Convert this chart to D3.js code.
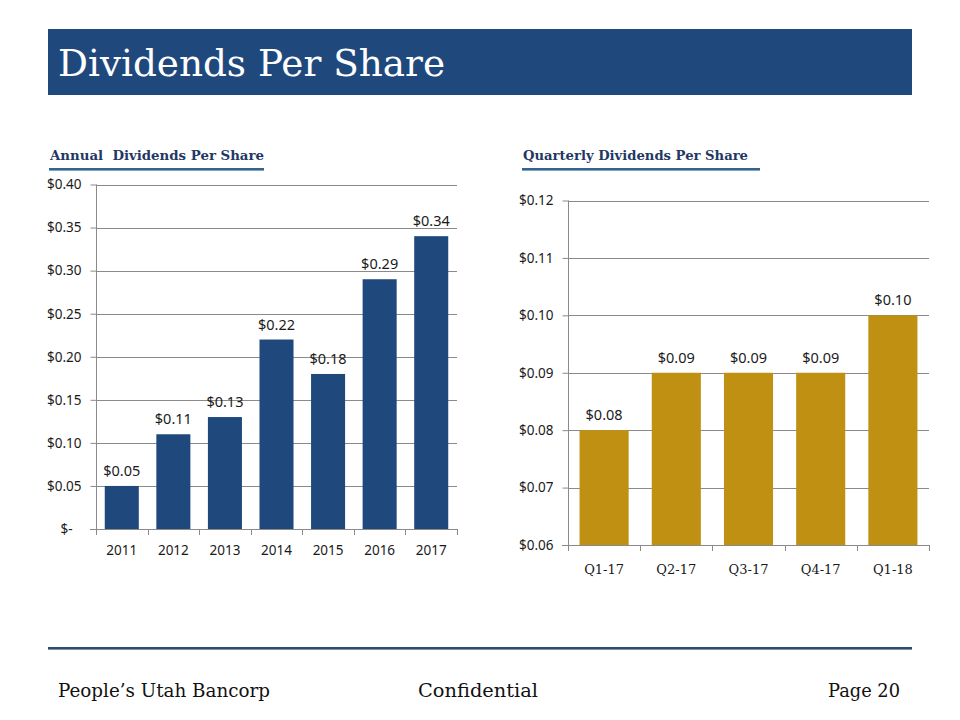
<!DOCTYPE html>
<html>
<head>
<meta charset="utf-8">
<script src="https://cdn.jsdelivr.net/npm/d3@7"></script>
<style>
  html, body { margin: 0; padding: 0; background: #fff; }
  svg { display: block; }
</style>
</head>
<body>
<svg id="chart" width="960" height="720"></svg>
<script>
// ---- Data ----
const annualYears = ["2011", "2012", "2013", "2014", "2015", "2016", "2017"];
const annualValues = [0.05, 0.11, 0.13, 0.22, 0.18, 0.29, 0.34];
const annualTicks = [0, 0.05, 0.10, 0.15, 0.20, 0.25, 0.30, 0.35, 0.40];

const quarters = ["Q1-17", "Q2-17", "Q3-17", "Q4-17", "Q1-18"];
const quarterValues = [0.08, 0.09, 0.09, 0.09, 0.10];
const quarterTicks = [0.06, 0.07, 0.08, 0.09, 0.10, 0.11, 0.12];

const titleText = "Dividends Per Share";
const annualTitle = "Annual  Dividends Per Share";
const quarterTitle = "Quarterly Dividends Per Share";
const footerLeft = "People\u2019s Utah Bancorp";
const footerMid = "Confidential";
const footerRight = "Page 20";

// ---- Styles ----
const navy = "#1f497d";
const gold = "#bf9011";
const gridColor = "#8a8a8a";
const sansFont = "'Noto Sans', 'DejaVu Sans', sans-serif";
const serifFont = "'DejaVu Serif', 'Liberation Serif', serif";

const svg = d3.select("#chart");

// Title banner
svg.append("rect").attr("x", 48).attr("y", 29).attr("width", 864).attr("height", 66).attr("fill", navy);
svg.append("text").attr("x", 58).attr("y", 76)
  .attr("font-family", serifFont).attr("font-size", 37.5).attr("fill", "#fff")
  .attr("textLength", 387).attr("lengthAdjust", "spacingAndGlyphs")
  .text(titleText);

// Subtitles
function subtitle(x, y, w, lineW, txt) {
  svg.append("text").attr("x", x).attr("y", y)
    .attr("font-family", serifFont).attr("font-size", 13).attr("font-weight", "bold")
    .attr("fill", "#1f3864").style("white-space", "pre")
    .attr("textLength", w).attr("lengthAdjust", "spacingAndGlyphs")
    .text(txt);
  svg.append("rect").attr("x", x - 1).attr("y", 168).attr("width", lineW).attr("height", 2.6)
    .attr("fill", "#36648f");
}
subtitle(50, 160, 214, 215, annualTitle);
subtitle(523, 160, 225, 238, quarterTitle);

// Generic bar chart
function barChart(opts) {
  const { cats, vals, ticks, x0, x1, yTop, yBot, dom, color, pad, tickFmt, xFont, xFontSize, xLabelY } = opts;
  const x = d3.scaleBand().domain(cats).range([x0, x1]).paddingInner(pad).paddingOuter(pad / 2);
  const y = d3.scaleLinear().domain(dom).range([yBot, yTop]);
  const g = svg.append("g");

  // gridlines
  g.selectAll(".grid").data(ticks.filter(t => t !== dom[0])).enter().append("line")
    .attr("x1", x0).attr("x2", x1)
    .attr("y1", d => Math.round(y(d)) + 0.5).attr("y2", d => Math.round(y(d)) + 0.5)
    .attr("stroke", gridColor).attr("stroke-width", 1);

  // bars
  g.selectAll(".bar").data(vals).enter().append("rect")
    .attr("x", (d, i) => x(cats[i])).attr("width", x.bandwidth())
    .attr("y", d => y(d)).attr("height", d => yBot - y(d))
    .attr("fill", color);

  // y axis
  const yAxis = d3.axisLeft(y).tickValues(ticks).tickSize(6).tickPadding(9).tickFormat(tickFmt);
  const ya = g.append("g").attr("transform", `translate(${Math.round(x0) + 0.5},0)`).call(yAxis);
  ya.select(".domain").attr("stroke", gridColor).attr("d", `M0,${yTop}V${yBot}`);
  ya.selectAll(".tick line").attr("stroke", gridColor);
  ya.selectAll(".tick text").attr("font-family", sansFont).attr("font-size", 13.5).attr("fill", "#1a1a1a");

  // x axis baseline + boundary ticks
  g.append("line").attr("x1", x0 - 6).attr("x2", x1).attr("y1", Math.round(yBot) + 0.5).attr("y2", Math.round(yBot) + 0.5)
    .attr("stroke", gridColor);
  const bounds = cats.map(c => x(c) - x.step() * pad / 2).concat([x1]);
  g.selectAll(".xt").data(bounds).enter().append("line")
    .attr("x1", d => Math.round(d) + 0.5).attr("x2", d => Math.round(d) + 0.5)
    .attr("y1", Math.round(yBot)).attr("y2", Math.round(yBot) + 6)
    .attr("stroke", gridColor);

  // x labels
  g.selectAll(".xl").data(cats).enter().append("text")
    .attr("x", d => x(d) + x.bandwidth() / 2).attr("y", xLabelY)
    .attr("text-anchor", "middle").attr("font-family", xFont).attr("font-size", xFontSize).attr("fill", "#1a1a1a")
    .text(d => d);

  // data labels
  g.selectAll(".dl").data(vals).enter().append("text")
    .attr("x", (d, i) => x(cats[i]) + x.bandwidth() / 2).attr("y", d => y(d) - 10)
    .attr("text-anchor", "middle").attr("font-family", sansFont).attr("font-size", 14.5).attr("fill", "#1a1a1a")
    .text(d => "$" + d3.format(".2f")(d));
  return ya;
}

const ya1 = barChart({
  cats: annualYears, vals: annualValues, ticks: annualTicks,
  x0: 96, x1: 457, yTop: 184.5, yBot: 529, dom: [0, 0.40], color: navy, pad: 0.34,
  tickFmt: d => d === 0 ? "$-" : "$" + d3.format(".2f")(d),
  xFont: sansFont, xFontSize: 13.5, xLabelY: 555
});
ya1.selectAll(".tick text").filter(d => d === 0).attr("dx", -9);

barChart({
  cats: quarters, vals: quarterValues, ticks: quarterTicks,
  x0: 568, x1: 929, yTop: 200.5, yBot: 545, dom: [0.06, 0.12], color: gold, pad: 0.32,
  tickFmt: d => "$" + d3.format(".2f")(d),
  xFont: serifFont, xFontSize: 13, xLabelY: 574
});

// Footer
svg.append("rect").attr("x", 48).attr("y", 647).attr("width", 864).attr("height", 2.6).attr("fill", "#2b4c6f");
function footer(x, w, txt) {
  svg.append("text").attr("x", x).attr("y", 697)
    .attr("font-family", serifFont).attr("font-size", 19).attr("fill", "#111")
    .attr("textLength", w).attr("lengthAdjust", "spacingAndGlyphs").text(txt);
}
footer(58, 212, footerLeft);
footer(418, 120, footerMid);
footer(828, 72, footerRight);
</script>
</body>
</html>
